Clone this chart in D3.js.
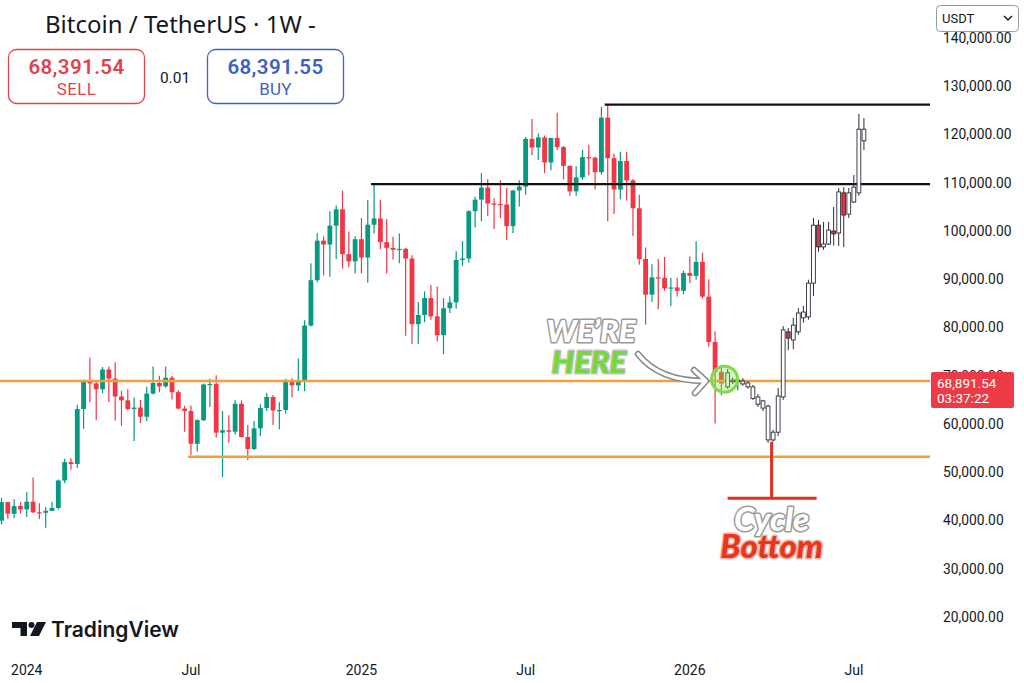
<!DOCTYPE html>
<html>
<head>
<meta charset="utf-8">
<script src="https://cdn.jsdelivr.net/npm/d3@7"></script>
<style>
  body { margin: 0; background: #fff; }
  svg { display: block; font-family: Roboto, "Noto Sans", sans-serif; }
</style>
</head>
<body>
<svg width="1024" height="683"></svg>
<script>
// weekly candles, [open, high, low, close] in thousands of USDT, first week starts 2023-12-04
const firstWeek = "2023-12-04";
const bars2024 = [
  [39.97, 44.7, 39.2, 43.8], [43.8, 43.9, 40.3, 41.4], [41.4, 44.4, 40.5, 43.0], [43.0, 43.8, 41.4, 42.3],
  [42.3, 45.9, 40.75, 43.9], [43.9, 48.9, 41.5, 41.7], [41.7, 43.6, 40.3, 41.6], [41.6, 42.8, 38.5, 42.0],
  [42.0, 43.9, 41.9, 42.6], [42.6, 48.5, 42.3, 48.3], [48.3, 52.8, 47.7, 52.1], [52.1, 52.9, 50.5, 51.7],
  [51.7, 64.0, 50.9, 63.1], [63.1, 69.2, 59.0, 68.9], [68.9, 73.8, 64.5, 68.4], [68.4, 68.9, 60.8, 67.2],
  [67.2, 71.8, 66.4, 71.3], [71.3, 71.9, 64.5, 69.4], [69.4, 72.8, 60.7, 65.7], [65.7, 66.9, 59.6, 64.9],
  [64.9, 67.2, 62.8, 63.1], [63.1, 65.5, 56.5, 63.4], [63.4, 65.0, 60.2, 61.5], [61.5, 67.7, 60.6, 66.3],
  [66.3, 71.9, 66.1, 68.5], [68.5, 70.0, 66.6, 67.8], [67.8, 71.9, 67.5, 69.6], [69.6, 70.0, 65.1, 66.6],
  [66.6, 67.0, 63.0, 63.2], [63.2, 63.8, 58.4, 62.7], [62.7, 63.8, 53.5, 55.9], [55.9, 61.0, 54.3, 60.8],
  [60.8, 68.4, 60.6, 68.2], [68.2, 69.4, 63.5, 68.3], [68.3, 70.1, 57.2, 58.2], [58.2, 62.7, 49.0, 58.7],
  [58.7, 61.8, 56.1, 58.4], [58.4, 65.0, 57.8, 64.2], [64.2, 64.9, 57.2, 57.3], [57.3, 59.8, 52.5, 54.8],
  [54.8, 60.6, 54.6, 59.1], [59.1, 64.1, 57.5, 63.3], [63.3, 66.5, 62.7, 65.6], [65.6, 66.0, 59.8, 62.8],
  [62.8, 64.5, 58.9, 62.9], [62.9, 69.4, 62.1, 69.0], [69.0, 69.5, 65.5, 68.0], [68.0, 73.6, 66.8, 68.8],
  [68.8, 81.5, 66.8, 80.4], [80.4, 93.3, 80.2, 89.8], [89.8, 99.6, 89.4, 98.0], [98.0, 98.9, 90.8, 97.2],
  [97.2, 104.1, 90.5, 101.1], [101.1, 105.3, 94.2, 104.5], [104.5, 108.4, 92.2, 95.2], [95.2, 99.9, 92.5, 93.7],
  [93.7, 98.9, 91.2, 98.3]
];
const bars2025 = [
  [98.3, 102.7, 91.2, 94.5], [94.5, 106.4, 89.3, 101.3], [101.3, 109.6, 99.5, 102.6], [102.6, 106.5, 96.2, 97.7],
  [97.7, 102.5, 91.2, 96.5], [96.5, 98.8, 94.1, 96.1], [96.1, 99.5, 93.3, 96.3], [96.3, 96.5, 78.3, 94.3],
  [94.3, 95.0, 76.6, 80.7], [80.7, 85.3, 76.6, 82.6], [82.6, 87.5, 81.1, 86.1], [86.1, 88.8, 81.6, 82.3],
  [82.3, 88.5, 77.1, 78.4], [78.4, 86.1, 74.5, 84.0], [84.0, 86.4, 83.0, 85.2], [85.2, 95.8, 83.9, 94.0],
  [94.0, 97.9, 92.8, 94.3], [94.3, 104.3, 93.4, 104.1], [104.1, 107.1, 100.7, 106.5], [106.5, 112.0, 102.0, 109.0],
  [109.0, 110.7, 103.1, 105.7], [105.7, 106.8, 100.4, 105.6], [105.6, 110.5, 102.7, 105.5], [105.5, 108.9, 98.2, 101.0],
  [101.0, 108.5, 99.6, 108.4], [108.4, 110.5, 105.1, 109.2], [109.2, 119.5, 107.5, 119.1], [119.1, 123.2, 115.7, 117.3],
  [117.3, 120.2, 114.7, 119.4], [119.4, 119.8, 112.0, 114.2], [114.2, 119.3, 112.6, 119.3], [119.3, 124.5, 116.8, 117.4],
  [117.4, 117.6, 110.7, 113.5], [113.5, 113.6, 107.3, 108.2], [108.2, 113.4, 107.3, 111.1], [111.1, 116.8, 110.6, 115.3],
  [115.3, 117.9, 111.6, 115.2], [115.2, 115.4, 108.6, 112.2], [112.2, 125.7, 111.7, 123.5], [123.5, 126.2, 102.0, 115.1],
  [115.1, 116.0, 103.5, 108.6], [108.6, 116.4, 106.6, 114.5], [114.5, 116.4, 106.3, 110.5], [110.5, 110.7, 98.9, 104.7],
  [104.7, 107.5, 93.0, 94.2], [94.2, 96.6, 80.6, 86.8], [86.8, 93.1, 85.3, 90.4], [90.4, 94.2, 83.8, 90.3],
  [90.3, 94.6, 87.6, 88.1], [88.1, 90.3, 84.4, 88.3], [88.3, 90.3, 86.4, 87.6], [87.6, 91.8, 86.9, 91.3]
];
const bars2026 = [
  [91.3, 94.7, 89.2, 90.7], [90.7, 97.9, 89.9, 93.6], [93.6, 95.5, 86.0, 86.4], [86.4, 90.0, 76.0, 77.0],
  [77.0, 79.2, 60.1, 70.8], [70.8, 71.6, 65.9, 68.4]
];

// projected path drawn on top (bars pattern), evenly spread between two dates
const projStart = "2026-02-16";
const projEnd = "2026-07-17";
const projBars = [
  [67.7, 71.4, 67.3, 70.6], [68.8, 69.6, 68.3, 69.1], [68.9, 69.7, 67.0, 69.1], [68.3, 69.5, 67.9, 68.9],
  [67.7, 68.9, 67.3, 68.5], [65.3, 68.1, 65.0, 67.7], [64.1, 66.2, 63.5, 65.6], [63.3, 65.0, 62.7, 64.8],
  [56.7, 64.0, 56.1, 63.7], [56.7, 58.8, 56.3, 58.3], [58.3, 67.5, 57.5, 65.8], [65.6, 80.3, 65.0, 79.5],
  [79.1, 79.9, 75.3, 77.8], [77.4, 82.0, 75.5, 80.5], [79.1, 84.0, 78.5, 83.0], [82.0, 84.5, 81.0, 83.2],
  [82.2, 89.9, 81.6, 89.2], [89.2, 102.7, 86.5, 101.2], [101.2, 102.3, 95.7, 96.7], [96.7, 101.9, 96.1, 97.3],
  [97.3, 101.9, 97.1, 100.2], [100.0, 105.0, 97.0, 99.4], [99.6, 108.9, 96.9, 108.1], [107.9, 109.1, 96.7, 103.3],
  [103.5, 108.9, 102.7, 107.9], [106.0, 111.6, 105.8, 109.1], [107.9, 124.3, 107.3, 121.1], [118.7, 123.4, 116.8, 121.1]
];
const bottomBar = 9;        // index in projBars of the cycle low
const cycleMarkLevel = 44.6; // where the red marker ends

// drawn horizontal levels, value + week they start from
const blackLevels = [[126.2, "2025-10-06"], [109.7, "2025-01-20"]];
const orangeLevels = [[68.9, "2023-12-04"], [53.2, "2024-07-01"]];

const yTicks = [20, 30, 40, 50, 60, 70, 80, 90, 100, 110, 120, 130, 140];
const xTicks = [["2024-01-01", "2024"], ["2024-07-01", "Jul"], ["2025-01-06", "2025"],
                ["2025-07-07", "Jul"], ["2026-01-05", "2026"], ["2026-07-06", "Jul"]];

const sellPrice = "68,391.54";
const buyPrice = "68,391.55";
const spread = "0.01";
const lastLabel = "68,891.54";
const countdown = "03:37:22";

// ---------------------------------------------------------------
const parse = d3.timeParse("%Y-%m-%d");
const UP = "#089981", DOWN = "#f23645", INK = "#131722";
const plotRight = 930;

const start = parse(firstWeek);
const bars = bars2024.concat(bars2025, bars2026).map((b, i) => ({
  date: d3.timeWeek.offset(start, i), o: b[0], h: b[1], l: b[2], c: b[3]
}));

const x = d3.scaleTime()
  .domain([start, parse("2026-07-06")])
  .range([1.5, 854]);

const y = d3.scaleLinear()
  .domain([20, 140])
  .range([617, 38]);

// projection gets its own index scale laid over the time range
const px = d3.scaleLinear()
  .domain([0, projBars.length - 1])
  .range([x(parse(projStart)), x(parse(projEnd))]);

const svg = d3.select("svg");

const plot = svg.append("g");
plot.append("clipPath").attr("id", "plotclip")
  .append("rect").attr("x", 0).attr("y", 0).attr("width", plotRight).attr("height", 650);
const area = plot.append("g").attr("clip-path", "url(#plotclip)");

// real candles
const cg = area.append("g");
cg.selectAll("line.wick")
  .data(bars)
  .enter().append("line")
  .attr("class", "wick")
  .attr("x1", d => x(d.date)).attr("x2", d => x(d.date))
  .attr("y1", d => y(d.h)).attr("y2", d => y(d.l))
  .attr("stroke", d => d.c >= d.o ? UP : DOWN)
  .attr("stroke-width", 1.2);

cg.selectAll("rect.body")
  .data(bars)
  .enter().append("rect")
  .attr("class", "body")
  .attr("x", d => x(d.date) - 2.4)
  .attr("width", 4.8)
  .attr("y", d => y(Math.max(d.o, d.c)))
  .attr("height", d => Math.max(1.2, Math.abs(y(d.o) - y(d.c))))
  .attr("fill", d => d.c >= d.o ? UP : DOWN);

// levels
blackLevels.forEach(([v, from]) => {
  area.append("line")
    .attr("x1", x(parse(from)) - 3).attr("x2", plotRight)
    .attr("y1", y(v)).attr("y2", y(v))
    .attr("stroke", "#111").attr("stroke-width", 2.2);
});
orangeLevels.forEach(([v, from]) => {
  area.append("line")
    .attr("x1", Math.max(0, x(parse(from)) - 3)).attr("x2", plotRight)
    .attr("y1", y(v)).attr("y2", y(v))
    .attr("stroke", "#f2a03d").attr("stroke-width", 2.4);
});

// projected candles
const proj = projBars.map((b, i) => ({ i: i, o: b[0], h: b[1], l: b[2], c: b[3] }));
const pg = area.append("g");
pg.selectAll("line")
  .data(proj)
  .enter().append("line")
  .attr("x1", d => px(d.i)).attr("x2", d => px(d.i))
  .attr("y1", d => y(d.h)).attr("y2", d => y(d.l))
  .attr("stroke", "#2a2e39").attr("stroke-width", 1);
pg.selectAll("rect")
  .data(proj)
  .enter().append("rect")
  .attr("x", d => px(d.i) - 1.9)
  .attr("width", 3.8)
  .attr("y", d => y(Math.max(d.o, d.c)))
  .attr("height", d => Math.max(1.5, Math.abs(y(d.o) - y(d.c))))
  .attr("fill", d => d.c < d.o ? "#e3343f" : "#fff")
  .attr("stroke", "#2a2e39").attr("stroke-width", 0.9);

// y axis labels
const yg = svg.append("g");
yg.selectAll("text")
  .data(yTicks)
  .enter().append("text")
  .attr("x", 943)
  .attr("y", d => y(d))
  .attr("dy", "0.36em")
  .attr("font-size", 13.8)
  .attr("fill", INK)
  .text(d => d3.format(",.2f")(d * 1000));

// x axis labels
svg.append("g").selectAll("text")
  .data(xTicks)
  .enter().append("text")
  .attr("x", d => x(parse(d[0])))
  .attr("y", 675)
  .attr("text-anchor", "middle")
  .attr("font-size", 14)
  .attr("fill", INK)
  .text(d => d[1]);

// last price label, sits over the 70,000 tick like in the app
const lastY = y(orangeLevels[0][0]);
svg.append("rect")
  .attr("x", 931).attr("y", lastY - 9).attr("width", 83).attr("height", 36)
  .attr("rx", 2).attr("fill", "#ec3b47");
svg.append("text").attr("x", 937).attr("y", lastY + 7)
  .attr("font-size", 13.5).attr("fill", "#fff").text(lastLabel);
svg.append("text").attr("x", 937).attr("y", lastY + 22)
  .attr("font-size", 13.5).attr("fill", "#fff").text(countdown);

// currency dropdown
svg.append("rect")
  .attr("x", 936.5).attr("y", 5.5).attr("width", 82).attr("height", 26).attr("rx", 4)
  .attr("fill", "#fff").attr("stroke", "#9598a1");
svg.append("text").attr("x", 942).attr("y", 23).attr("font-size", 13).attr("fill", INK).text("USDT");
svg.append("path").attr("d", "M1004,16 L1008,20 L1012,16")
  .attr("fill", "none").attr("stroke", INK).attr("stroke-width", 1.4);

// header
svg.append("text").attr("x", 45).attr("y", 33)
  .attr("font-family", "'Noto Sans', sans-serif")
  .attr("font-size", 24).attr("fill", INK)
  .text("Bitcoin / TetherUS \u00b7 1W -");

function tradeBox(x0, color, price, label) {
  svg.append("rect")
    .attr("x", x0).attr("y", 49.5).attr("width", 136).attr("height", 54).attr("rx", 8)
    .attr("fill", "#fff").attr("stroke", color).attr("stroke-width", 1.3);
  svg.append("text").attr("x", x0 + 68).attr("y", 74)
    .attr("text-anchor", "middle").attr("font-size", 20.5).attr("font-weight", 600)
    .attr("letter-spacing", 0.4)
    .attr("fill", color).text(price);
  svg.append("text").attr("x", x0 + 68).attr("y", 95)
    .attr("text-anchor", "middle").attr("font-size", 17)
    .attr("letter-spacing", 0.3)
    .attr("fill", color).text(label);
}
tradeBox(8.5, "#e0434d", sellPrice, "SELL");
tradeBox(207.5, "#3f61c4", buyPrice, "BUY");
svg.append("text").attr("x", 175).attr("y", 83)
  .attr("text-anchor", "middle").attr("font-size", 15.5).attr("fill", INK).text(spread);

// TradingView logo
const logo = svg.append("g").attr("fill", INK);
logo.append("path").attr("d", "M12,622 H27 V636 H20.5 V628 H12 Z");
logo.append("circle").attr("cx", 31.5).attr("cy", 625).attr("r", 3);
logo.append("path").attr("d", "M37,622 H46 L39,636 H30 Z");
logo.append("text").attr("x", 51).attr("y", 637)
  .attr("font-family", "Inter, Roboto, sans-serif")
  .attr("font-size", 21).attr("font-weight", 600).text("TradingView");

// annotations
const ann = svg.append("g")
  .attr("font-family", "Lato, 'Open Sans', sans-serif")
  .attr("font-style", "italic").attr("font-weight", 900);

function outlined(tx, ty, size, fill, stroke, str) {
  ann.append("text")
    .attr("x", tx).attr("y", ty).attr("text-anchor", "middle")
    .attr("font-size", size)
    .attr("fill", fill).attr("stroke", stroke).attr("stroke-width", 3)
    .attr("stroke-linejoin", "round")
    .attr("paint-order", "stroke")
    .text(str);
}
outlined(591, 342, 31, "#fff", "#9a9a9a", "WE\u2019RE");
outlined(589, 373, 31, "#74d83a", "#c4c4c4", "HERE");

// curved arrow to the current bar
const arrow = "M638,354 C652,372 676,381 705,381 M694,370 L706,381 L695,393";
ann.append("path").attr("d", arrow).attr("fill", "none")
  .attr("stroke", "#8a8a8a").attr("stroke-width", 6.5).attr("stroke-linecap", "round").attr("stroke-linejoin", "round");
ann.append("path").attr("d", arrow).attr("fill", "none")
  .attr("stroke", "#fff").attr("stroke-width", 3.5).attr("stroke-linecap", "round").attr("stroke-linejoin", "round");

// green highlight circle on the live candle
const lastBar = bars[bars.length - 1];
svg.append("circle")
  .attr("cx", (x(lastBar.date) + px(0)) / 2)
  .attr("cy", y(69.3))
  .attr("r", 13)
  .attr("fill", "rgba(130,225,80,0.35)")
  .attr("stroke", "#7fdc47").attr("stroke-width", 3);

// cycle bottom marker
const bx = px(bottomBar) - 1.5;
const low = projBars[bottomBar][2];
svg.append("line")
  .attr("x1", bx).attr("x2", bx).attr("y1", y(low)).attr("y2", y(cycleMarkLevel))
  .attr("stroke", "#e0301e").attr("stroke-width", 3);
svg.append("line")
  .attr("x1", bx - 44).attr("x2", bx + 45).attr("y1", y(cycleMarkLevel)).attr("y2", y(cycleMarkLevel))
  .attr("stroke", "#e0301e").attr("stroke-width", 3);
outlined(bx, 531, 33, "#fff", "#9a9a9a", "Cycle");
outlined(bx, 558, 33, "#e8361c", "#f2b3a8", "Bottom");
</script>
</body>
</html>
